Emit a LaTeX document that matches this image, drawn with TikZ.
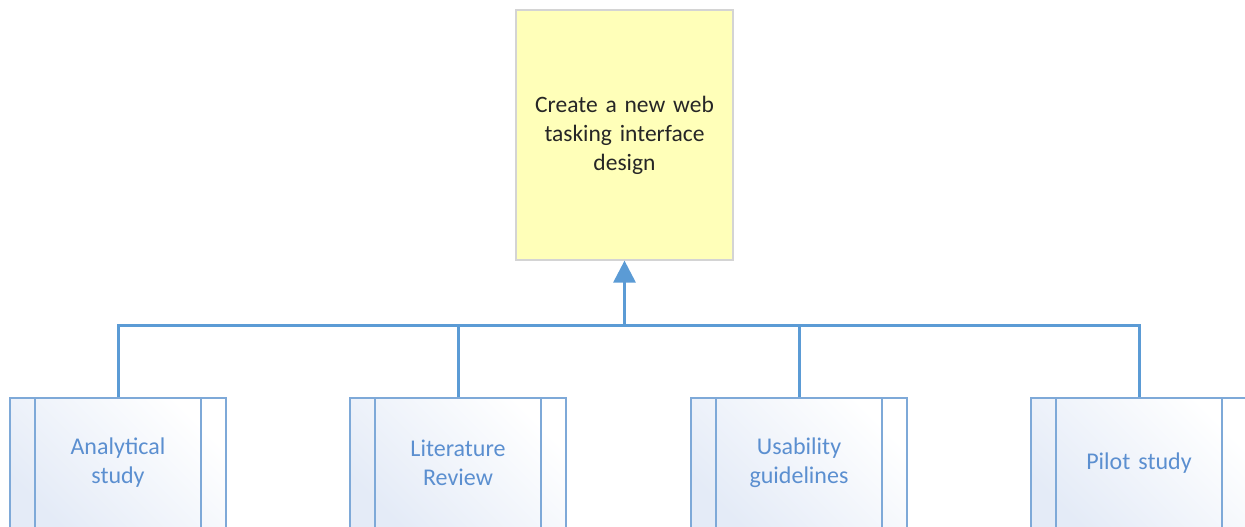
\documentclass[tikz,border=0pt]{standalone}
\usepackage{fontspec}
\setmainfont{Carlito}
\usetikzlibrary{arrows.meta}
\definecolor{goalfill}{HTML}{FFFFB9}
\definecolor{goalline}{HTML}{D4D4D4}
\definecolor{linkblue}{HTML}{5B9BD5}
\definecolor{procline}{HTML}{7EA9D8}
\definecolor{procfill}{HTML}{E4EBF7}
\definecolor{proctext}{HTML}{5B8FD0}
\tikzset{
  goal/.style={draw=goalline, line width=1.2pt, fill=goalfill,
    minimum width=217pt, minimum height=250pt, inner sep=0pt,
    align=center, text width=210pt,
    font=\fontsize{23.5}{29}\selectfont, text=black!85},
  procbox/.style={draw=procline, line width=1.6pt,
    top color=procfill, bottom color=white, shading angle=135,
    minimum width=216pt, minimum height=130pt, inner sep=0pt,
    align=center, text width=160pt,
    font=\fontsize{24}{29}\selectfont, text=proctext},
  link/.style={draw=linkblue, line width=3pt},
}
\begin{document}
\begin{tikzpicture}[x=1pt,y=-1pt]
  \useasboundingbox (0,0) rectangle (1245,527);
  \clip (0,0) rectangle (1245,527);
  \node[goal] (goal) at (624.5,135) {Create a new web\\tasking interface\\design};
  % predefined-process boxes along the bottom
  \foreach \nm/\cx/\txt in {a/118/{Analytical\\study}, b/458/{Literature\\Review},
                           c/799/{Usability\\guidelines}, d/1139/{Pilot study}}{
    \node[procbox] (\nm) at (\cx,463) {\txt};
    \draw[procline, line width=1.6pt]
      ([xshift=26pt]\nm.north west) -- ([xshift=26pt]\nm.south west)
      ([xshift=-26pt]\nm.north east) -- ([xshift=-26pt]\nm.south east);
  }
  % connectors joining the bottom boxes into the goal
  \coordinate (bus) at (624.5,325);
  \draw[link] (a.north) |- (bus) -| (d.north);
  \draw[link] (b.north) -- (b.north |- bus);
  \draw[link] (c.north) -- (c.north |- bus);
  \draw[link, -{Triangle[length=22pt,width=22pt]}] (bus) -- (goal.south);
\end{tikzpicture}
\end{document}
